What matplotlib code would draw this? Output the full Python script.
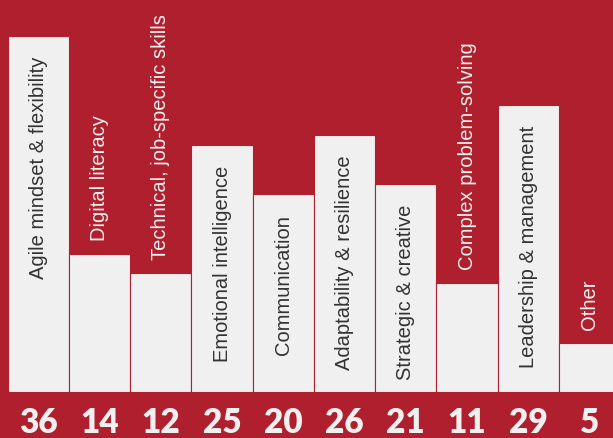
import matplotlib
matplotlib.use("Agg")
import matplotlib.pyplot as plt

skills = ["Agile mindset & flexibility", "Digital literacy", "Technical, job-specific skills",
          "Emotional intelligence", "Communication", "Adaptability & resilience",
          "Strategic & creative", "Complex problem-solving", "Leadership & management", "Other"]
values = [36, 14, 12, 25, 20, 26, 21, 11, 29, 5]

RED = "#B01F2E"
BAR = "#F0F0F0"

fig = plt.figure(figsize=(6.13, 4.39), dpi=100, facecolor=RED)
ax = fig.add_axes([0, 0, 1, 1])
ax.set_facecolor(RED)

x = list(range(len(values)))
ax.bar(x, values, width=1.0, color=BAR, edgecolor=RED, linewidth=0.8)

ax.set_xlim(-0.626, 9.382)
ax.set_ylim(-4.65, 39.74)
ax.axis("off")

# labels: inside tall bars (dark), above short bars (white)
for i, (name, v) in enumerate(zip(skills, values)):
    if v >= 18:
        ax.text(i, v - 2.0, name, rotation=90, ha="center", va="top",
                fontsize=14.5, color="#333333", family="Liberation Sans")
    else:
        ax.text(i, v + 1.4, name, rotation=90, ha="center", va="bottom",
                fontsize=14.5, color=BAR, family="Liberation Sans")

# values along the bottom
for i, v in enumerate(values):
    ax.text(i, -3.0, str(v), ha="center", va="center", fontsize=24,
            fontweight="heavy", color=BAR, family="Lato")

fig.savefig("out.png", dpi=100, facecolor=RED)
